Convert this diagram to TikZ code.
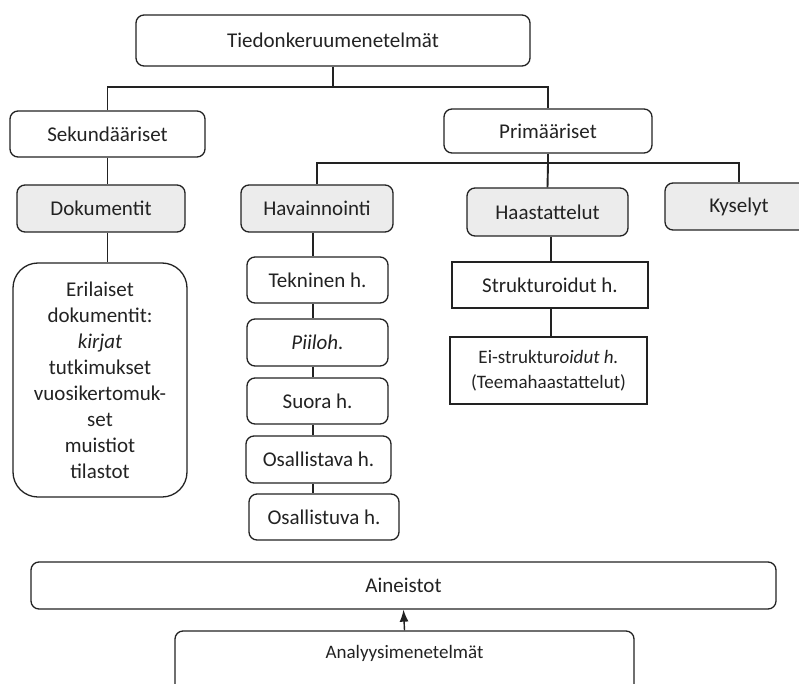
\documentclass[tikz,border=0pt]{standalone}
\usepackage{fontspec}
\setmainfont{Carlito}
\usetikzlibrary{arrows.meta}
\definecolor{ink}{HTML}{222222}
\definecolor{boxfill}{HTML}{ECECEC}
\tikzset{
  box/.style={draw=ink, line width=1.3pt, rounded corners=8pt, inner sep=0pt,
    text=ink, align=center, font=\fontsize{21}{26}\selectfont},
  gbox/.style={box, fill=boxfill},
  sbox/.style={box, rounded corners=0pt},
  conn/.style={draw=ink, line width=1.9pt},
}
\begin{document}
\begin{tikzpicture}[x=1pt,y=-1pt]
\useasboundingbox (0,0) rectangle (799,684);
\clip (0,0) rectangle (799,684);
% level 0
\node[box, minimum width=394pt, minimum height=51pt] (tie) at (333,40.5) {Tiedonkeruumenetelmät};
% level 1
\node[box, minimum width=195pt, minimum height=46pt] (sek) at (107.5,134) {Sekundääriset};
\node[box, minimum width=208pt, minimum height=44pt] (pri) at (548,131) {Primääriset};
% level 2
\node[gbox, minimum width=168pt, minimum height=47pt] (dok) at (101,208.5) {Dokumentit};
\node[gbox, minimum width=152pt, minimum height=47pt] (hav) at (317,208.5) {Havainnointi};
\node[gbox, minimum width=161pt, minimum height=48pt] (haa) at (547.5,212) {Haastattelut};
\node[gbox, minimum width=148pt, minimum height=47pt] (kys) at (739,206.5) {Kyselyt};
% documents
\node[box, rounded corners=25pt, minimum width=174pt, minimum height=234pt] (eri) at (100,380)
  {Erilaiset\\dokumentit:\\\textit{kirjat}\\tutkimukset\\vuosikertomuk-\\set\\muistiot\\tilastot};
% observation chain
\node[box, minimum width=141pt, minimum height=46pt] (tek) at (317.5,280) {Tekninen h.};
\node[box, minimum width=141pt, minimum height=47pt] (pii) at (317.5,342.5) {\textit{Piiloh.}};
\node[box, minimum width=141pt, minimum height=46pt] (suo) at (317.5,401) {Suora h.};
\node[box, minimum width=145pt, minimum height=47pt] (osv) at (318.5,459.5) {Osallistava h.};
\node[box, minimum width=150pt, minimum height=46pt] (osu) at (324,517) {Osallistuva h.};
% interviews
\node[sbox, minimum width=196pt, minimum height=46pt] (str) at (550,285) {Strukturoidut h.};
\node[sbox, minimum width=197pt, minimum height=67pt, font=\fontsize{19}{25}\selectfont] (eis) at (548.5,370.5)
  {Ei-struktur\textit{oidut h.}\\(Teemahaastattelut)};
% bottom
\node[box, minimum width=745pt, minimum height=47pt] (ain) at (403.5,585.5) {Aineistot};
\node[box, minimum width=459pt, minimum height=80pt] (ana) at (404.5,671) {};
\node[text=ink, font=\fontsize{19}{23}\selectfont, inner sep=0pt] (anat) at (404.5,653) {Analyysimenetelmät};
% connectors
\coordinate (b1) at (333,87);
\draw[conn] (tie.south) -- (b1);
\draw[conn] (sek.north) |- (b1) -| (pri.north);
\coordinate (b2) at (548,163);
\draw[conn] (pri.south) -- (b2);
\draw[conn] (hav.north) |- (b2) -| (kys.north);
\draw[conn] (b2) -- (haa.north);
\draw[conn] (sek.south) -- (dok.north -| sek.south);
\draw[conn] (dok.south -| sek.south) -- (eri.north -| sek.south);
\draw[conn] (hav.south -| 313,0) -- (tek.north -| 313,0);
\draw[conn] (tek.south -| 313,0) -- (pii.north -| 313,0);
\draw[conn] (pii.south -| 313,0) -- (suo.north -| 313,0);
\draw[conn] (suo.south -| 313,0) -- (osv.north -| 313,0);
\draw[conn] (osv.south -| 313,0) -- (osu.north -| 313,0);
\draw[conn] (haa.south -| 551,0) -- (str.north -| 551,0);
\draw[conn] (str.south -| 551,0) -- (eis.north -| 551,0);
\draw[draw=ink, line width=1.4pt, -{Latex[length=12pt,width=9pt]}] (ana.north) -- (ain.south);
\end{tikzpicture}
\end{document}
